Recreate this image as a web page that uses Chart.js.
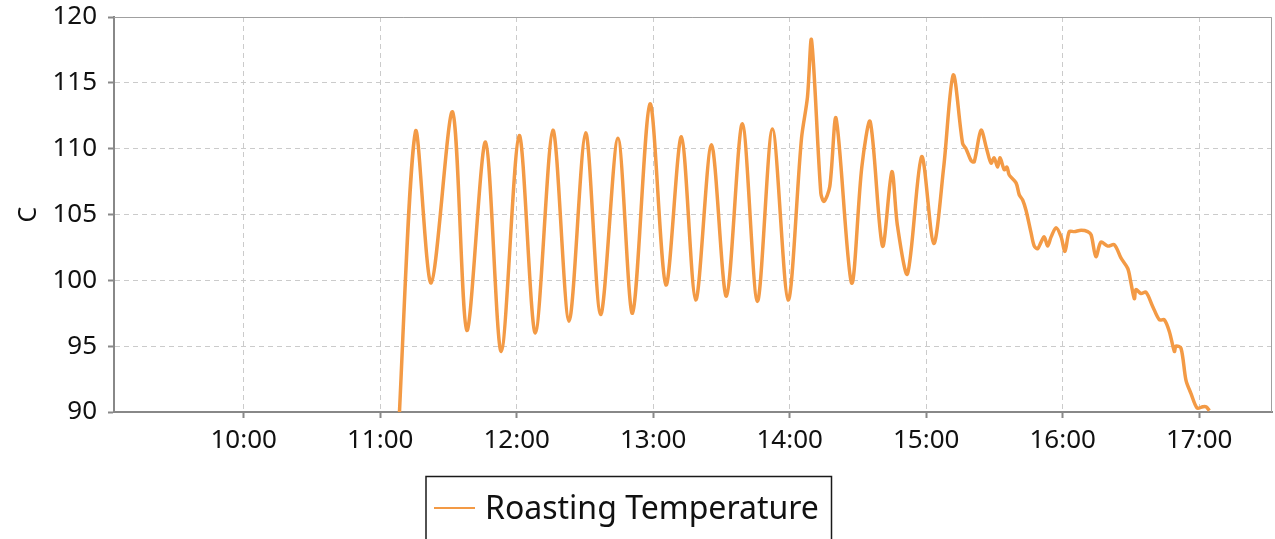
<!DOCTYPE html>
<html>
<head>
<meta charset="utf-8">
<script src="https://cdn.jsdelivr.net/npm/chart.js@4"></script>
<style>
    html, body { margin: 0; padding: 0; background: #fff; }
    #wrap { width: 1275px; height: 539px; }
</style>
</head>
<body>
<div id="wrap"><canvas id="roastChart"></canvas></div>
<script>
// series: time in minutes after midnight, temperature in C
const seriesLabel = "Roasting Temperature";
const yAxisTitle = "C";
const times = [
    667.6, 675.5, 682.4, 691.8, 698.1, 706.3, 713.2, 721.1, 728.2, 735.9,
    743.0, 750.3, 756.9, 764.5, 770.9, 778.6, 785.6, 792.4, 798.7, 805.6,
    812.2, 819.2, 825.8, 832.4, 839.3, 845.2, 847.8, 849.6, 853.7, 855.1,
    857.6, 860.4, 867.2, 871.7, 875.4, 880.8, 884.9, 887.4, 891.8, 898.0,
    903.3, 907.7, 911.9, 916.0, 917.5, 919.7, 921.1, 924.1, 926.7, 928.5,
    929.9, 931.4, 932.5, 934.3, 935.5, 936.5, 939.5, 940.9, 942.4, 943.9,
    946.1, 947.5, 949.0, 950.5, 951.9, 953.4, 954.9, 957.1, 959.3, 961.0,
    962.9, 965.1, 968.1, 971.0, 972.5, 974.6, 976.8, 979.8, 982.7, 985.6,
    988.6, 990.0, 991.5, 992.2, 994.4, 996.6, 999.6, 1002.5, 1004.7, 1006.9,
    1009.1, 1009.8, 1012.0, 1014.2, 1016.4, 1019.1, 1021.6, 1023.0, 1024.5
];
const temps = [
    87.0, 111.3, 99.8, 112.8, 96.2, 110.5, 94.6, 111.0, 96.0, 111.4,
    96.9, 111.2, 97.4, 110.8, 97.5, 113.4, 99.65, 110.9, 98.5, 110.3,
    98.8, 111.9, 98.4, 111.5, 98.5, 110.8, 113.9, 118.25, 106.6, 106.0,
    107.1, 112.3, 99.8, 108.6, 112.05, 102.6, 108.25, 104.1, 100.5, 109.4,
    102.8, 108.6, 115.6, 110.4, 110.0, 109.1, 109.0, 111.4, 109.9, 108.9,
    109.3, 108.6, 109.3, 108.4, 108.6, 108.0, 107.4, 106.5, 106.1, 105.3,
    103.6, 102.6, 102.4, 102.9, 103.3, 102.6, 103.3, 104.0, 103.3, 102.2,
    103.7, 103.7, 103.8, 103.7, 103.45, 101.8, 102.9, 102.6, 102.7, 101.7,
    100.9, 99.8, 98.6, 99.3, 99.0, 99.1, 98.0, 97.0, 97.0, 96.1,
    94.6, 95.0, 94.85, 92.4, 91.4, 90.3, 90.4, 90.4, 90.1
];
const hourTicks = ["10:00", "11:00", "12:00", "13:00", "14:00", "15:00", "16:00", "17:00"];
const xRange = [543, 1052];
const yRange = [90, 120];

const lineColor = "#f39a45";
const fontFamily = "'Noto Sans', 'Open Sans', sans-serif";

function toMinutes(hhmm) {
    const parts = hhmm.split(":");
    return Number(parts[0]) * 60 + Number(parts[1]);
}
function toClock(mins) {
    const h = Math.floor(mins / 60);
    const m = Math.round(mins - h * 60);
    return h + ":" + String(m).padStart(2, "0");
}

// thin frame on the top and right of the plot area
const plotFrame = {
    id: "plotFrame",
    beforeDatasetsDraw(chart) {
        const {ctx, chartArea: a} = chart;
        ctx.save();
        ctx.strokeStyle = "#a0a0a0";
        ctx.lineWidth = 1;
        ctx.beginPath();
        ctx.moveTo(a.left, a.top + 0.5);
        ctx.lineTo(a.right - 0.5, a.top + 0.5);
        ctx.lineTo(a.right - 0.5, a.bottom);
        ctx.stroke();
        ctx.restore();
    }
};

// legend in a black box under the axis
const boxedLegend = {
    id: "boxedLegend",
    afterDraw(chart) {
        const ctx = chart.ctx;
        const ds = chart.data.datasets[0];
        ctx.save();
        ctx.strokeStyle = "#1a1a1a";
        ctx.lineWidth = 1.5;
        ctx.strokeRect(426, 476.5, 405.5, 90);
        ctx.strokeStyle = ds.borderColor;
        ctx.lineWidth = 2;
        ctx.beginPath();
        ctx.moveTo(434, 508);
        ctx.lineTo(475, 508);
        ctx.stroke();
        ctx.fillStyle = "#111";
        ctx.font = "32px " + fontFamily;
        ctx.textBaseline = "alphabetic";
        ctx.fillText(ds.label, 485, 519);
        ctx.restore();
    }
};

const ctx = document.getElementById("roastChart").getContext("2d");

new Chart(ctx, {
    type: "line",
    data: {
        datasets: [{
            label: seriesLabel,
            data: times.map((t, i) => ({x: t, y: temps[i]})),
            borderColor: lineColor,
            borderWidth: 3.5,
            pointRadius: 0,
            tension: 0.3,
            fill: false,
        }],
    },
    options: {
        responsive: true,
        maintainAspectRatio: false,
        animation: false,
        layout: {
            padding: {left: 0, right: 3, top: 17, bottom: 0},
        },
        plugins: {
            legend: {display: false},
            tooltip: {enabled: false},
        },
        scales: {
            x: {
                type: "linear",
                min: xRange[0],
                max: xRange[1],
                afterBuildTicks: function (scale) {
                    scale.ticks = hourTicks.map(h => ({value: toMinutes(h)}));
                },
                afterFit: function (scale) {
                    scale.height = 127;
                },
                ticks: {
                    callback: value => toClock(value),
                    color: "#111",
                    padding: 7,
                    maxRotation: 0,
                    font: {family: fontFamily, size: 26},
                },
                grid: {
                    color: "#cbcbcb",
                    lineWidth: 1,
                    tickColor: "#888",
                    tickLength: 6,
                    tickWidth: 2,
                },
                border: {
                    color: "#888",
                    width: 2,
                    dash: [5, 4],
                },
            },
            y: {
                min: yRange[0],
                max: yRange[1],
                afterFit: function (scale) {
                    scale.width = 114;
                    // the labels may poke out above the plot, as in the original
                    scale.paddingTop = 0;
                    scale.paddingBottom = 0;
                },
                ticks: {
                    stepSize: 5,
                    color: "#111",
                    padding: 11,
                    font: {family: fontFamily, size: 26},
                },
                title: {
                    display: true,
                    text: yAxisTitle,
                    color: "#111",
                    padding: {top: 14, bottom: 0},
                    font: {family: fontFamily, size: 25},
                },
                grid: {
                    color: "#cbcbcb",
                    lineWidth: 1,
                    tickColor: "#888",
                    tickLength: 6,
                    tickWidth: 2,
                },
                border: {
                    color: "#888",
                    width: 2,
                    dash: [5, 4],
                },
            },
        },
    },
    plugins: [plotFrame, boxedLegend],
});
</script>
</body>
</html>
